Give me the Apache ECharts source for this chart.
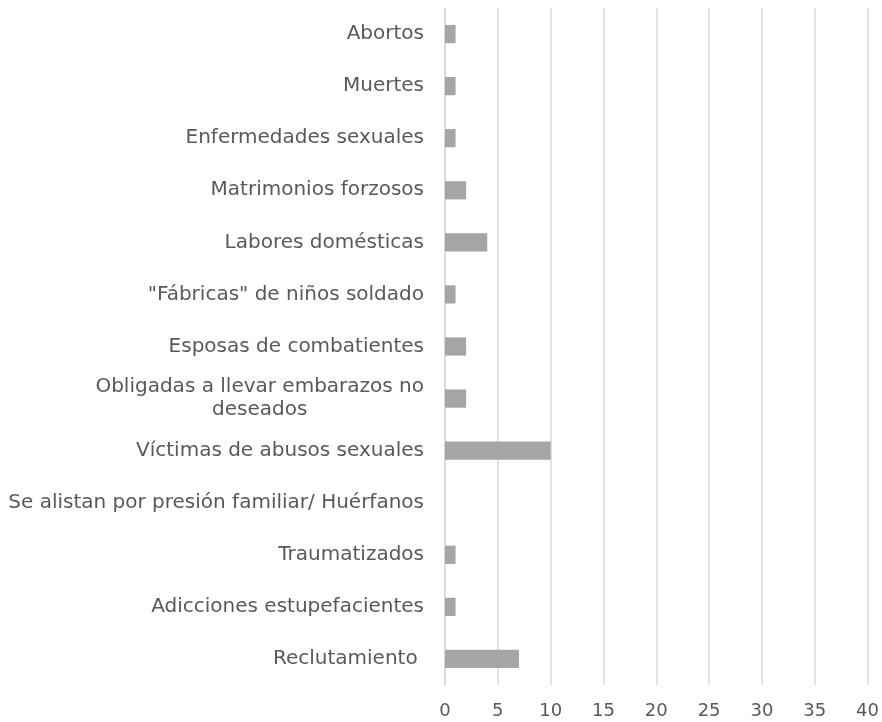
<!DOCTYPE html>
<html lang="es">
<head>
    <meta charset="UTF-8">
    <title>Chart</title>
    <script src="https://cdn.jsdelivr.net/npm/echarts@6/dist/echarts.min.js"></script>
    <style>
        html, body { margin: 0; padding: 0; background: #fff; }
    </style>
</head>
<body>
<div id="myChart" style="width: 882px; height: 722px;"></div>
<script>
    // categories listed bottom to top (category axis starts at the bottom)
    var categories = [
        'Reclutamiento ',
        'Adicciones estupefacientes',
        'Traumatizados',
        'Se alistan por presión familiar/ Huérfanos',
        'Víctimas de abusos sexuales',
        'Obligadas a llevar embarazos no\ndeseados',
        'Esposas de combatientes',
        '"Fábricas" de niños soldado',
        'Labores domésticas',
        'Matrimonios forzosos',
        'Enfermedades sexuales',
        'Muertes',
        'Abortos'
    ];
    var values = [7, 1, 1, 0, 10, 2, 2, 1, 4, 2, 1, 1, 1];
    var xTicks = { min: 0, max: 40, interval: 5 };

    var labelFont = 'DejaVu Sans';
    var chart = echarts.init(document.getElementById('myChart'));
    chart.setOption({
        animation: false,
        grid: { left: 445, right: 14, top: 8, bottom: 37, containLabel: false },
        xAxis: {
            type: 'value',
            min: xTicks.min,
            max: xTicks.max,
            interval: xTicks.interval,
            axisLine: { show: false },
            axisTick: { show: false },
            splitLine: { lineStyle: { color: '#d9d9d9', width: 1.5 } },
            axisLabel: { color: '#595959', fontSize: 18, fontFamily: labelFont, margin: 17 }
        },
        yAxis: {
            type: 'category',
            data: categories,
            axisLine: { lineStyle: { color: '#d9d9d9', width: 1.5 } },
            axisTick: { show: false },
            axisLabel: {
                color: '#595959',
                fontSize: 20,
                fontFamily: labelFont,
                margin: 21,
                lineHeight: 23,
                formatter: function (v) {
                    return v.split('\n').map(function (s) { return '{c|' + s + '}'; }).join('\n');
                },
                rich: { c: { align: 'center', fontSize: 20, fontFamily: labelFont, color: '#595959', lineHeight: 23 } }
            }
        },
        series: [{
            type: 'bar',
            data: values,
            barWidth: '35%',
            itemStyle: { color: '#a5a5a5' }
        }]
    });
</script>
</body>
</html>
